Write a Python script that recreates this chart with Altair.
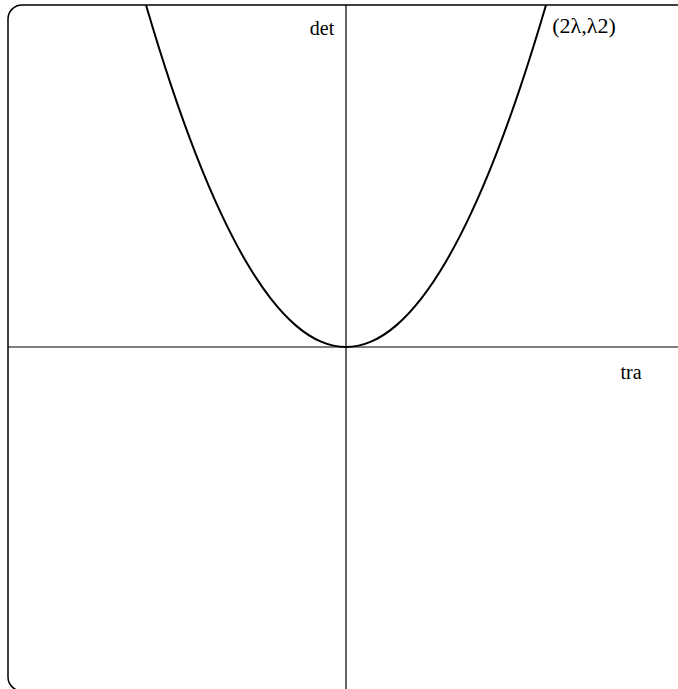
import altair as alt
import pandas as pd

# Curve (2λ, λ²): trace and determinant values along the parabola
tra = [-2.5, -2.25, -2.0, -1.75, -1.5, -1.25, -1.0, -0.75, -0.5, -0.25, 0.0,
       0.25, 0.5, 0.75, 1.0, 1.25, 1.5, 1.75, 2.0, 2.25, 2.5]
det = [1.5625, 1.265625, 1.0, 0.765625, 0.5625, 0.390625, 0.25, 0.140625, 0.0625, 0.015625, 0.0,
       0.015625, 0.0625, 0.140625, 0.25, 0.390625, 0.5625, 0.765625, 1.0, 1.265625, 1.5625]

# Annotation texts and where they sit in (tra, det) space
label_text = ["det", "tra", "(2λ,λ2)"]
label_x = [-0.24, 2.85, 2.38]
label_y = [0.93, -0.075, 0.94]
label_size = [20, 20, 22]

X_DOMAIN = [-3.38, 3.32]
Y_DOMAIN = [-1.0, 1.0]

curve_df = pd.DataFrame({"tra": tra, "det": det})
labels_df = pd.DataFrame({"text": label_text, "x": label_x, "y": label_y, "size": label_size})

xs = alt.Scale(domain=X_DOMAIN, nice=False, zero=False)
ys = alt.Scale(domain=Y_DOMAIN, nice=False, zero=False)

curve = alt.Chart(curve_df).mark_line(
    color="black", strokeWidth=2, interpolate="natural", clip=True
).encode(
    x=alt.X("tra:Q", scale=xs, axis=None),
    y=alt.Y("det:Q", scale=ys, axis=None),
)

# Coordinate axes through the origin
x_axis = alt.Chart(pd.DataFrame({"y": [0.0]})).mark_rule(color="black", strokeWidth=1.2).encode(
    y=alt.Y("y:Q", scale=ys, axis=None)
)
y_axis = alt.Chart(pd.DataFrame({"x": [0.0]})).mark_rule(color="black", strokeWidth=1.2).encode(
    x=alt.X("x:Q", scale=xs, axis=None)
)

# Rounded frame that runs off the right and bottom edges of the page
frame = alt.Chart(pd.DataFrame({"f": [0]})).mark_rect(
    fill=None, filled=False, stroke="black", strokeWidth=1.5, cornerRadius=14
).encode(
    x=alt.value(0), x2=alt.value(700), y=alt.value(0), y2=alt.value(686)
)

label_layers = []
for i in range(len(label_text)):
    sub = labels_df.iloc[[i]]
    label_layers.append(
        alt.Chart(sub).mark_text(
            font="Liberation Serif", color="black", align="center", baseline="middle",
            fontSize=int(label_size[i])
        ).encode(
            x=alt.X("x:Q", scale=xs, axis=None),
            y=alt.Y("y:Q", scale=ys, axis=None),
            text="text:N",
        )
    )

chart = alt.layer(frame, x_axis, y_axis, curve, *label_layers).properties(
    width=670,
    height=684,
    padding={"left": 8, "top": 5, "right": 0, "bottom": 0},
    autosize=alt.AutoSizeParams(type="none"),
    background="white",
).configure_view(
    stroke=None, fill="white"
)

chart.save("out.html", embed_options={"renderer": "svg", "actions": False})
